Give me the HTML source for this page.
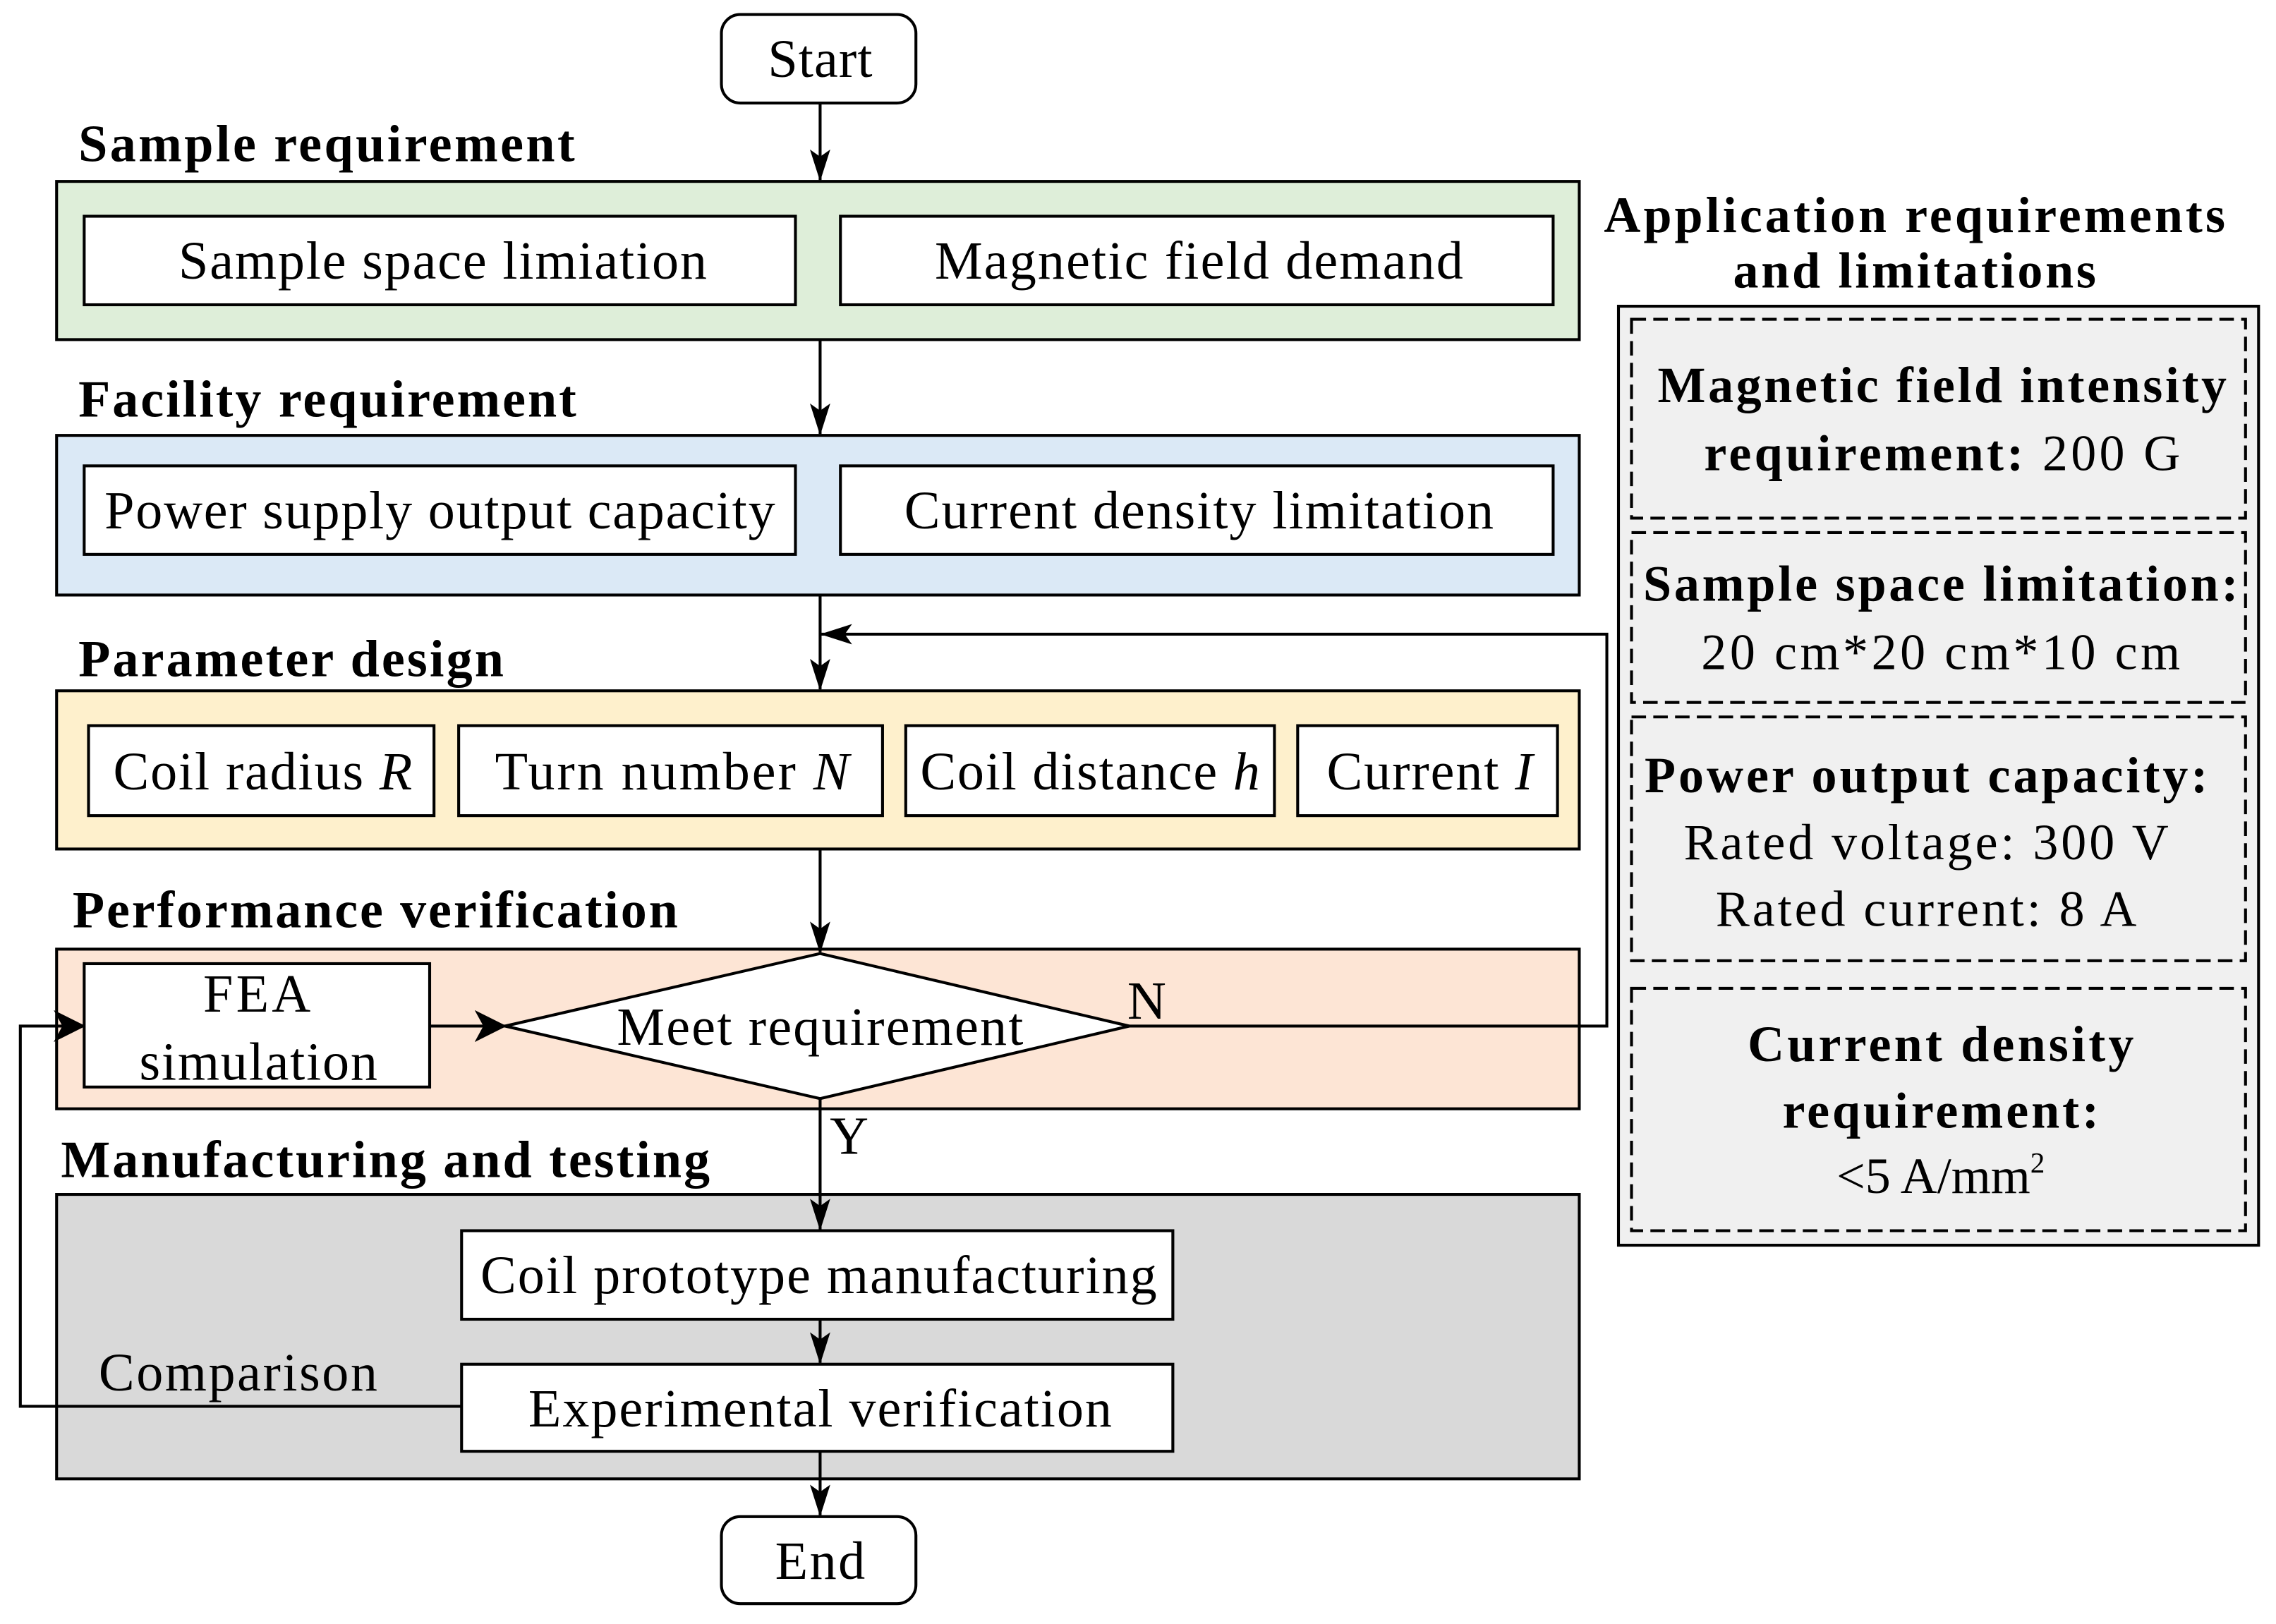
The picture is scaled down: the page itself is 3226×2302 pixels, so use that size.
<!DOCTYPE html>
<html><head><meta charset="utf-8"><style>html,body{margin:0;padding:0;background:#fff}svg{display:block}</style></head>
<body>
<svg width="3226" height="2302" viewBox="0 0 1568 1119" preserveAspectRatio="none" xmlns="http://www.w3.org/2000/svg" font-family="'Liberation Serif', serif">
<defs><marker id="a" markerWidth="22" markerHeight="14" refX="21" refY="7" orient="auto" markerUnits="userSpaceOnUse" viewBox="0 0 22 14"><path d="M0,0 L22,7 L0,14 L5,7 Z" fill="#000"/></marker>
<marker id="b" markerWidth="22" markerHeight="22" refX="21" refY="11" orient="auto" markerUnits="userSpaceOnUse" viewBox="0 0 22 22"><path d="M0,0 L22,11 L0,22 L6,11 Z" fill="#000"/></marker></defs>
<g stroke="#000" stroke-width="2" fill="none">
<rect x="497" y="10" width="134" height="61" rx="13" fill="#fff"/>
<rect x="39" y="125" width="1049" height="109" fill="#deeed9"/>
<rect x="58" y="149" width="490" height="61" fill="#fff"/>
<rect x="579" y="149" width="491" height="61" fill="#fff"/>
<rect x="39" y="300" width="1049" height="110" fill="#dbe9f6"/>
<rect x="58" y="321" width="490" height="61" fill="#fff"/>
<rect x="579" y="321" width="491" height="61" fill="#fff"/>
<rect x="39" y="476" width="1049" height="109" fill="#fef0cc"/>
<rect x="61" y="500" width="238" height="62" fill="#fff"/>
<rect x="316" y="500" width="292" height="62" fill="#fff"/>
<rect x="624" y="500" width="254" height="62" fill="#fff"/>
<rect x="894" y="500" width="179" height="62" fill="#fff"/>
<rect x="39" y="654" width="1049" height="110" fill="#fde5d5"/>
<rect x="58" y="664" width="238" height="85" fill="#fff"/>
<polygon points="348,707 565,657 778,707 565,757" fill="#fff"/>
<rect x="39" y="823" width="1049" height="196" fill="#d9d9d9"/>
<rect x="318" y="848" width="490" height="61" fill="#fff"/>
<rect x="318" y="940" width="490" height="60" fill="#fff"/>
<rect x="497" y="1045" width="134" height="60" rx="13" fill="#fff"/>
<rect x="1115" y="211" width="441" height="647" fill="#f0f0f0"/>
<g stroke-dasharray="10,5">
<rect x="1124" y="220" width="423" height="137"/>
<rect x="1124" y="367" width="423" height="117"/>
<rect x="1124" y="494" width="423" height="168"/>
<rect x="1124" y="681" width="423" height="167"/>
</g>
<line x1="565" y1="71" x2="565" y2="124" marker-end="url(#a)"/>
<line x1="565" y1="234" x2="565" y2="299" marker-end="url(#a)"/>
<line x1="565" y1="410" x2="565" y2="475" marker-end="url(#a)"/>
<polyline points="778,707 1107,707 1107,437 566,437" marker-end="url(#a)"/>
<line x1="565" y1="585" x2="565" y2="656" marker-end="url(#a)"/>
<line x1="296" y1="707" x2="348" y2="707" marker-end="url(#b)"/>
<polyline points="318,969 14,969 14,707 58,707" marker-end="url(#b)"/>
<line x1="565" y1="757" x2="565" y2="847" marker-end="url(#a)"/>
<line x1="565" y1="909" x2="565" y2="939" marker-end="url(#a)"/>
<line x1="565" y1="1000" x2="565" y2="1044" marker-end="url(#a)"/>
</g>
<g font-size="37" fill="#000" text-anchor="middle">
<text x="565" y="53" textLength="72">Start</text>
<text x="305" y="192" textLength="364">Sample space limiation</text>
<text x="826" y="192" textLength="364">Magnetic field demand</text>
<text x="303" y="364" textLength="462">Power supply output capacity</text>
<text x="826" y="364" textLength="406">Current density limitation</text>
<text x="181" y="544" textLength="206">Coil radius <tspan font-style="italic">R</tspan></text>
<text x="463" y="544" textLength="244">Turn number <tspan font-style="italic">N</tspan></text>
<text x="751" y="544" textLength="234">Coil distance <tspan font-style="italic">h</tspan></text>
<text x="985" y="544" textLength="142">Current <tspan font-style="italic">I</tspan></text>
<text x="177" y="697" textLength="74">FEA</text>
<text x="178" y="744" textLength="164">simulation</text>
<text x="565" y="720" textLength="280">Meet requirement</text>
<text x="790" y="702">N</text>
<text x="585" y="795">Y</text>
<text x="564" y="891" textLength="466">Coil prototype manufacturing</text>
<text x="565" y="983" textLength="402">Experimental verification</text>
<text x="164" y="958" textLength="192">Comparison</text>
<text x="565" y="1088" textLength="62">End</text>
</g>
<g font-size="36" font-weight="bold" fill="#000">
<text x="54" y="111" textLength="342">Sample requirement</text>
<text x="54" y="287" textLength="343">Facility requirement</text>
<text x="54" y="466" textLength="293">Parameter design</text>
<text x="50" y="639" textLength="417">Performance verification</text>
<text x="42" y="811" textLength="447">Manufacturing and testing</text>
</g>
<g font-size="35" fill="#000" text-anchor="middle">
<text x="1319" y="160" font-weight="bold" textLength="428">Application requirements</text>
<text x="1319" y="198" font-weight="bold" textLength="250">and limitations</text>
<text x="1338" y="277" font-weight="bold" textLength="392">Magnetic field intensity</text>
<text x="1338" y="324" textLength="328"><tspan font-weight="bold">requirement:</tspan> 200 G</text>
<text x="1337" y="414" font-weight="bold" textLength="410">Sample space limitation:</text>
<text x="1337" y="461" textLength="330">20 cm*20 cm*10 cm</text>
<text x="1327" y="546" font-weight="bold" textLength="388">Power output capacity:</text>
<text x="1327" y="592" textLength="334">Rated voltage: 300 V</text>
<text x="1327" y="638" textLength="290">Rated current: 8 A</text>
<text x="1337" y="731" font-weight="bold" textLength="266">Current density</text>
<text x="1337" y="777" font-weight="bold" textLength="218">requirement:</text>
<text x="1337" y="822">&lt;5 A/mm<tspan font-size="20" dy="-14">2</tspan></text>
</g>
</svg>
</body></html>
